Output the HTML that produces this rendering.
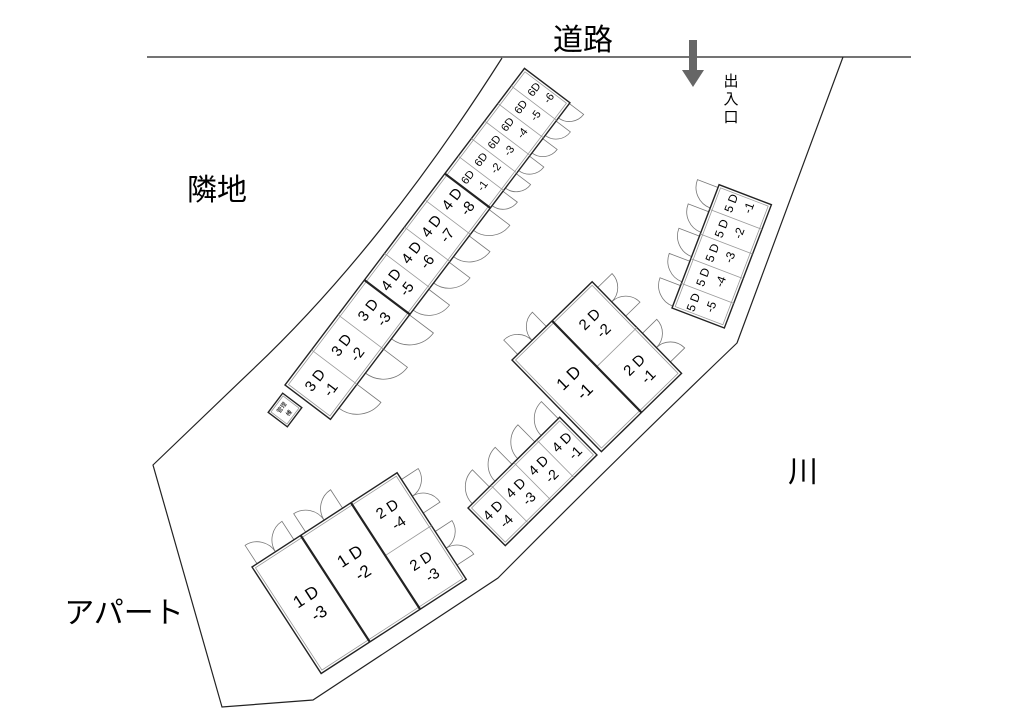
<!DOCTYPE html>
<html><head><meta charset="utf-8"><style>
html,body{margin:0;padding:0;background:#fff;}
svg{display:block;}
text{font-family:"Liberation Sans","Noto Sans CJK JP",sans-serif;fill:#000;}
.o{fill:#fff;stroke:#222;stroke-width:1.4;}
.i{fill:none;stroke:#999;stroke-width:0.8;}
.g{stroke:#999;stroke-width:0.8;fill:none;}
.k{stroke:#222;stroke-width:2.2;}
.d{fill:none;stroke:#777;stroke-width:0.8;}
</style></head><body>
<svg width="1024" height="724" viewBox="0 0 1024 724" xmlns="http://www.w3.org/2000/svg">
<rect width="1024" height="724" fill="#fff"/>
<line x1="147" y1="57" x2="911" y2="57" stroke="#222" stroke-width="1.2"/>
<path d="M502,58 Q380,250 250,372 Q200,420 153,465 L222,707 L313,700 L498,578 Q620,455 737,343 L843,57" fill="none" stroke="#222" stroke-width="1.2"/>
<text x="583" y="50" font-size="30" text-anchor="middle">道路</text>
<text x="217" y="200" font-size="30" text-anchor="middle">隣地</text>
<text x="803" y="482" font-size="30" text-anchor="middle">川</text>
<text x="124" y="623" font-size="30" text-anchor="middle">アパート</text>
<text x="731" y="86" font-size="15" text-anchor="middle">出</text>
<text x="731" y="104" font-size="15" text-anchor="middle">入</text>
<text x="731" y="122" font-size="15" text-anchor="middle">口</text>
<rect x="689" y="40" width="8" height="31" fill="#666"/>
<polygon points="682,70 704,70 693,87" fill="#666"/>

<g transform="translate(285,385) rotate(-52.9)">
 <path class="d" d="M44,57 L44,87 A30,30 0 0 1 14,57 M88,57 L88,87 A30,30 0 0 1 58,57 M131,57 L131,87 A30,30 0 0 1 101,57"/>
 <path class="d" d="M163,57 L163,83 A26,26 0 0 1 137,57 M197,57 L197,83 A26,26 0 0 1 171,57 M230,57 L230,83 A26,26 0 0 1 204,57 M263,57 L263,83 A26,26 0 0 1 237,57"/>
 <path class="d" d="M286,57 L286,75 A18,18 0 0 1 268,57 M308,57 L308,75 A18,18 0 0 1 290,57 M330,57 L330,75 A18,18 0 0 1 312,57 M352,57 L352,75 A18,18 0 0 1 334,57 M374,57 L374,75 A18,18 0 0 1 356,57 M396,57 L396,75 A18,18 0 0 1 378,57"/>
 <rect class="o" x="0" y="0" width="397" height="57"/>
 <rect class="i" x="2.5" y="2.5" width="392" height="52"/>
 <path class="g" d="M44,0V57M88,0V57M165,0V57M198,0V57M232,0V57M287,0V57M309,0V57M331,0V57M353,0V57M375,0V57"/>
 <path class="k" d="M131.6,0V57M265,0V57"/>
 <g font-size="15" text-anchor="middle">
  <text x="22" y="26">3 D</text><text x="24" y="44">-1</text>
  <text x="66" y="26">3 D</text><text x="68" y="44">-2</text>
  <text x="110" y="26">3 D</text><text x="112" y="44">-3</text>
  <text x="148" y="26">4 D</text><text x="150" y="44">-5</text>
  <text x="182" y="26">4 D</text><text x="184" y="44">-6</text>
  <text x="215" y="26">4 D</text><text x="217" y="44">-7</text>
  <text x="249" y="26">4 D</text><text x="251" y="44">-8</text>
 </g>
 <g font-size="11" text-anchor="middle">
  <text x="276" y="24">6D</text><text x="278" y="41">-1</text>
  <text x="298" y="24">6D</text><text x="300" y="41">-2</text>
  <text x="320" y="24">6D</text><text x="322" y="41">-3</text>
  <text x="342" y="24">6D</text><text x="344" y="41">-4</text>
  <text x="364" y="24">6D</text><text x="366" y="41">-5</text>
  <text x="386" y="24">6D</text><text x="388" y="41">-6</text>
 </g>
</g>

<g transform="translate(285,410) rotate(-52.9)">
 <rect class="o" x="-12" y="-12" width="24" height="24" stroke-width="1"/>
 <rect class="i" x="-10" y="-10" width="20" height="20"/>
 <text x="0" y="-2" font-size="6" text-anchor="middle">管理</text>
 <text x="0" y="7" font-size="6" text-anchor="middle">棟</text>
</g>

<g transform="translate(672,308) rotate(-69.1)">
 <path class="d" d="M24,0 L24,-22 A22,22 0 0 0 2,0 M50,0 L50,-22 A22,22 0 0 0 28,0 M77,0 L77,-22 A22,22 0 0 0 55,0 M103,0 L103,-22 A22,22 0 0 0 81,0 M129,0 L129,-22 A22,22 0 0 0 107,0"/>
 <rect class="o" x="0" y="0" width="132" height="56"/>
 <rect class="i" x="2.5" y="2.5" width="127" height="51"/>
 <path class="g" d="M26.4,0V56M52.8,0V56M79.2,0V56M105.6,0V56"/>
 <g font-size="12" text-anchor="middle">
  <text x="13" y="22">5 D</text><text x="15" y="40">-5</text>
  <text x="40" y="22">5 D</text><text x="42" y="40">-4</text>
  <text x="66" y="22">5 D</text><text x="68" y="40">-3</text>
  <text x="92" y="22">5 D</text><text x="94" y="40">-2</text>
  <text x="119" y="22">5 D</text><text x="121" y="40">-1</text>
 </g>
</g>

<g transform="translate(512,360) rotate(-44.3)">
 <path class="d" d="M8,0 L8,-20 A20,20 0 0 1 28,0 M48,0 L48,-20 A20,20 0 0 0 28,0"/>
 <path class="d" d="M112,8 L132,8 A20,20 0 0 1 112,28 M112,48 L132,48 A20,20 0 0 0 112,28"/>
 <path class="d" d="M112,72 L132,72 A20,20 0 0 1 112,92 M112,112 L132,112 A20,20 0 0 0 112,92"/>
 <rect class="o" x="0" y="0" width="112" height="128"/>
 <rect class="i" x="2.5" y="2.5" width="107" height="123"/>
 <path class="g" d="M56,64H112"/>
 <path class="k" d="M56,0V128"/>
 <g font-size="17" text-anchor="middle">
  <text x="28" y="58">1 D</text><text x="30" y="79">-1</text>
 </g>
 <g font-size="15" text-anchor="middle">
  <text x="84" y="30">2 D</text><text x="86" y="48">-2</text>
  <text x="84" y="94">2 D</text><text x="86" y="112">-1</text>
 </g>
</g>

<g transform="translate(468,508) rotate(-44.7)">
 <path class="d" d="M30,0 L30,-24 A24,24 0 0 0 6,0 M62,0 L62,-24 A24,24 0 0 0 38,0 M94,0 L94,-24 A24,24 0 0 0 70,0 M127,0 L127,-24 A24,24 0 0 0 103,0"/>
 <rect class="o" x="0" y="0" width="129" height="53"/>
 <rect class="i" x="2.5" y="2.5" width="124" height="48"/>
 <path class="g" d="M32.25,0V53M64.5,0V53M96.75,0V53"/>
 <g font-size="14" text-anchor="middle">
  <text x="16" y="24">4 D</text><text x="18" y="41">-4</text>
  <text x="48" y="24">4 D</text><text x="50" y="41">-3</text>
  <text x="80" y="24">4 D</text><text x="82" y="41">-2</text>
  <text x="113" y="24">4 D</text><text x="115" y="41">-1</text>
 </g>
</g>

<g transform="translate(252,567) rotate(-33)">
 <path class="d" d="M6,0 L6,-22 A22,22 0 0 1 28,0 M50,0 L50,-22 A22,22 0 0 0 28,0"/>
 <path class="d" d="M64,0 L64,-22 A22,22 0 0 1 86,0 M108,0 L108,-22 A22,22 0 0 0 86,0"/>
 <path class="d" d="M173,8 L193,8 A20,20 0 0 1 173,28 M173,48 L193,48 A20,20 0 0 0 173,28"/>
 <path class="d" d="M173,70 L193,70 A20,20 0 0 1 173,90 M173,110 L193,110 A20,20 0 0 0 173,90"/>
 <rect class="o" x="0" y="0" width="173" height="127"/>
 <rect class="i" x="2.5" y="2.5" width="168" height="122"/>
 <path class="g" d="M118,63H173"/>
 <path class="k" d="M58,0V127M118,0V127"/>
 <g font-size="17" text-anchor="middle">
  <text x="29" y="60">1 D</text><text x="31" y="81">-3</text>
  <text x="88" y="50">1 D</text><text x="90" y="71">-2</text>
 </g>
 <g font-size="15" text-anchor="middle">
  <text x="145" y="30">2 D</text><text x="147" y="48">-4</text>
  <text x="145" y="92">2 D</text><text x="147" y="110">-3</text>
 </g>
</g>
</svg>
</body></html>
